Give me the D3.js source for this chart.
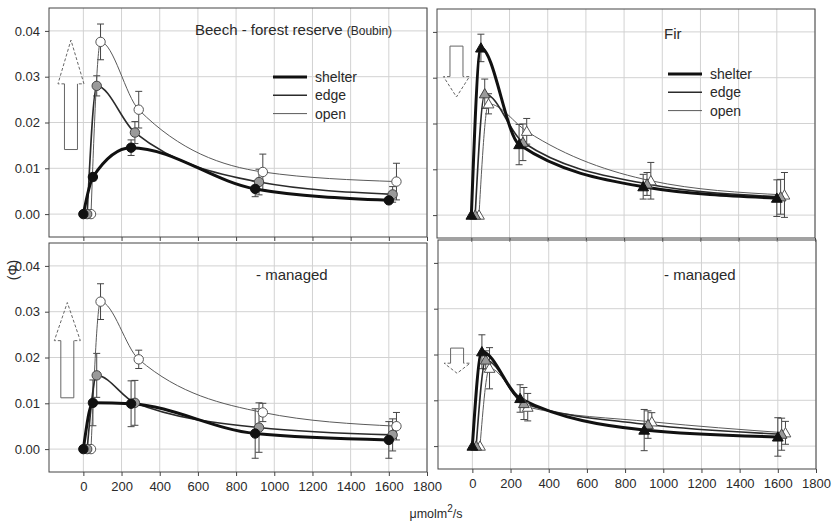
<!DOCTYPE html>
<html>
<head>
<meta charset="utf-8">
<script src="https://cdn.jsdelivr.net/npm/d3@7"></script>
<style>
body { margin: 0; background: #fff; }
svg { font-family: "Liberation Sans", Arial, sans-serif; }
.grid line { stroke: #d2d2d2; stroke-width: 1; }
.axis path { display: none; }
.axis line { stroke: #444; }
.axis text { font-size: 13px; fill: #2a2a2a; }
.frame { fill: none; stroke: #444; stroke-width: 1; }
.err { stroke: #444; stroke-width: 1; fill: none; }
.arrow-shaft { fill: none; stroke: #666; stroke-width: 1; }
.arrow-head { fill: none; stroke: #666; stroke-width: 1; stroke-dasharray: 3,2; }
</style>
</head>
<body>
<div id="chart"></div>
<script>
var xTicks = [0, 200, 400, 600, 800, 1000, 1200, 1400, 1600, 1800];
var yTicks = [0, 0.01, 0.02, 0.03, 0.04];

// light levels (series are offset slightly along x, as in the figure)
var xShelter = [0, 50, 250, 900, 1600];
var xEdge = [20, 70, 270, 920, 1620];
var xOpen = [40, 90, 290, 940, 1640];

// Beech - forest reserve (Boubin)
var beechResShelter = [0, 0.0081, 0.0145, 0.0055, 0.0030];
var beechResShelterErr = [0, 0.0008, 0.0017, 0.0017, 0.0005];
var beechResEdge = [0, 0.0280, 0.0178, 0.0070, 0.0043];
var beechResEdgeErr = [0, 0.0022, 0.0024, 0.0028, 0.0017];
var beechResOpen = [0, 0.0376, 0.0228, 0.0092, 0.0071];
var beechResOpenErr = [0, 0.0039, 0.0040, 0.0039, 0.0040];

// Fir - forest reserve
var firResShelter = [0, 0.0365, 0.0154, 0.0062, 0.0037];
var firResShelterErr = [0, 0.0030, 0.0044, 0.0027, 0.0040];
var firResEdge = [0, 0.0265, 0.0159, 0.0068, 0.0040];
var firResEdgeErr = [0, 0.0032, 0.0040, 0.0025, 0.0038];
var firResOpen = [0, 0.0243, 0.0183, 0.0075, 0.0044];
var firResOpenErr = [0, 0.0022, 0.0028, 0.0040, 0.0049];

// Beech - managed
var beechManShelter = [0, 0.0101, 0.0099, 0.0034, 0.0020];
var beechManShelterErr = [0, 0.0050, 0.0050, 0.0054, 0.0040];
var beechManEdge = [0, 0.0161, 0.0101, 0.0047, 0.0031];
var beechManEdgeErr = [0, 0.0048, 0.0049, 0.0054, 0.0035];
var beechManOpen = [0, 0.0322, 0.0196, 0.0080, 0.0050];
var beechManOpenErr = [0, 0.0039, 0.0020, 0.0020, 0.0030];

// Fir - managed
var firManShelter = [0, 0.0206, 0.0104, 0.0035, 0.0020];
var firManShelterErr = [0, 0.0037, 0.0030, 0.0045, 0.0042];
var firManEdge = [0, 0.0188, 0.0093, 0.0047, 0.0026];
var firManEdgeErr = [0, 0.0020, 0.0035, 0.0030, 0.0035];
var firManOpen = [0, 0.0170, 0.0085, 0.0053, 0.0029];
var firManOpenErr = [0, 0.0045, 0.0030, 0.0020, 0.0025];

// arrows: x position, tail and tip (shelter peak -> open peak)
var arrowX = [-65, -78, -84, -80];
var arrowTail = [0.0141, 0.0369, 0.0112, 0.0214];
var arrowTip = [0.0380, 0.0258, 0.0320, 0.0159];

var seriesNames = ["shelter", "edge", "open"];
var xDomain = [-180, 1800];
var yDomain = [-0.005, 0.045];

var width = 832, height = 521;
var panelW = 378, panelH = 229;

var styles = {
	shelter: { stroke: "#111", width: 3, fill: "#111", mstroke: "#111" },
	edge: { stroke: "#2b2b2b", width: 1.6, fill: "#9a9a9a", mstroke: "#444" },
	open: { stroke: "#5a5a5a", width: 1, fill: "#fff", mstroke: "#555" }
};

function makeSeries(sh, shE, ed, edE, op, opE) {
	return [
		{ name: "shelter", xs: xShelter, ys: sh, err: shE },
		{ name: "edge", xs: xEdge, ys: ed, err: edE },
		{ name: "open", xs: xOpen, ys: op, err: opE }
	];
}

var panels = [
	{ left: 49, top: 8, marker: "circle", yLabels: true, xLabels: false,
	  title: "Beech - forest reserve ", sub: "(Boubin)", tx: 146, ty: 27,
	  legend: { x: 224, y: 69 }, arrow: 0,
	  series: makeSeries(beechResShelter, beechResShelterErr, beechResEdge, beechResEdgeErr, beechResOpen, beechResOpenErr) },
	{ left: 437, top: 9, marker: "triangle", yLabels: false, xLabels: false,
	  title: "Fir", sub: "", tx: 227, ty: 30,
	  legend: { x: 231, y: 65 }, arrow: 1,
	  series: makeSeries(firResShelter, firResShelterErr, firResEdge, firResEdgeErr, firResOpen, firResOpenErr) },
	{ left: 49, top: 243, marker: "circle", yLabels: true, xLabels: true,
	  title: "- managed", sub: "", tx: 207, ty: 37,
	  legend: null, arrow: 2,
	  series: makeSeries(beechManShelter, beechManShelterErr, beechManEdge, beechManEdgeErr, beechManOpen, beechManOpenErr) },
	{ left: 438, top: 240, marker: "triangle", yLabels: false, xLabels: true,
	  title: "- managed", sub: "", tx: 226, ty: 40,
	  legend: null, arrow: 3,
	  series: makeSeries(firManShelter, firManShelterErr, firManEdge, firManEdgeErr, firManOpen, firManOpenErr) }
];

var svg = d3.select("#chart").append("svg")
	.attr("width", width)
	.attr("height", height);

panels.forEach(drawPanel);

// y axis label
svg.append("text")
	.attr("transform", "translate(18, 270) rotate(-90)")
	.attr("text-anchor", "middle")
	.style("font-size", "14px")
	.style("fill", "#2a2a2a")
	.text("(Φ)");

// x axis label
var xl = svg.append("text")
	.attr("x", 436)
	.attr("y", 518)
	.attr("text-anchor", "middle")
	.style("font-size", "12.5px")
	.style("fill", "#2a2a2a");
xl.append("tspan").text("μmolm");
xl.append("tspan").attr("dy", -6).style("font-size", "10px").text("2");
xl.append("tspan").attr("dy", 6).text("/s");

function drawPanel(p) {
	var x = d3.scaleLinear().domain(xDomain).range([0, panelW]);
	var y = d3.scaleLinear().domain(yDomain).range([panelH, 0]);

	var g = svg.append("g").attr("transform", `translate(${p.left}, ${p.top})`);

	/* grid */
	var grid = g.append("g").attr("class", "grid");
	grid.selectAll(".vg")
		.data(xTicks).enter()
		.append("line")
		.attr("x1", d => x(d)).attr("x2", d => x(d))
		.attr("y1", 0).attr("y2", panelH);
	grid.selectAll(".hg")
		.data(yTicks).enter()
		.append("line")
		.attr("x1", 0).attr("x2", panelW)
		.attr("y1", d => y(d)).attr("y2", d => y(d));

	/* axes */
	var xAxis = d3.axisBottom(x).tickValues(xTicks).tickSize(4).tickPadding(6)
		.tickFormat(p.xLabels ? d3.format("d") : "");
	var yAxis = d3.axisLeft(y).tickValues(yTicks).tickSize(4).tickPadding(5)
		.tickFormat(p.yLabels ? d3.format(".2f") : "");

	g.append("g")
		.attr("class", "axis")
		.attr("transform", `translate(0, ${panelH})`)
		.call(xAxis);
	g.append("g")
		.attr("class", "axis")
		.call(yAxis);

	g.append("rect")
		.attr("class", "frame")
		.attr("width", panelW)
		.attr("height", panelH);

	/* title */
	var t = g.append("text")
		.attr("x", p.tx).attr("y", p.ty)
		.style("font-size", "15px")
		.style("fill", "#2a2a2a")
		.text(p.title);
	if (p.sub) {
		t.append("tspan").style("font-size", "12px").text(p.sub);
	}

	/* legend */
	if (p.legend) {
		var lg = g.append("g").attr("transform", `translate(${p.legend.x}, ${p.legend.y})`);
		seriesNames.forEach(function(n, i) {
			lg.append("line")
				.attr("x1", 0).attr("x2", 34)
				.attr("y1", i * 18.3).attr("y2", i * 18.3)
				.style("stroke", styles[n].stroke)
				.style("stroke-width", styles[n].width);
			lg.append("text")
				.attr("x", 42).attr("y", i * 18.3 + 5)
				.style("font-size", "14px")
				.style("fill", "#2a2a2a")
				.text(n);
		});
	}

	/* arrow */
	var ax = x(arrowX[p.arrow]);
	var yTail = y(arrowTail[p.arrow]);
	var yTip = y(arrowTip[p.arrow]);
	var yBase = yTip + (yTail - yTip) * 0.4;
	var sw = 6.5, hw = 13;
	g.append("path")
		.attr("class", "arrow-shaft")
		.attr("d", d3.line()([[ax - sw, yBase], [ax - sw, yTail], [ax + sw, yTail], [ax + sw, yBase]]));
	g.append("path")
		.attr("class", "arrow-head")
		.attr("d", d3.line()([[ax - sw, yBase], [ax - hw, yBase], [ax, yTip], [ax + hw, yBase], [ax + sw, yBase]]));

	/* series data */
	var data = p.series.map(function(s) {
		return {
			name: s.name,
			values: s.xs.map((v, i) => ({ x: v, y: s.ys[i], e: s.err[i] }))
		};
	});

	/* error bars */
	var cap = 3.5;
	data.forEach(function(s) {
		s.values.filter(d => d.e > 0).forEach(function(d) {
			var cx = x(d.x), y1 = y(d.y - d.e), y2 = y(d.y + d.e);
			g.append("path")
				.attr("class", "err")
				.attr("d", `M${cx},${y1}V${y2}M${cx - cap},${y1}H${cx + cap}M${cx - cap},${y2}H${cx + cap}`);
		});
	});

	/* lines */
	var line = d3.line()
		.curve(d3.curveMonotoneX)
		.x(d => x(d.x))
		.y(d => y(d.y));

	// draw thin lines first so the thick one sits on top
	data.slice().reverse().forEach(function(s) {
		g.append("path")
			.attr("d", line(s.values))
			.style("fill", "none")
			.style("stroke", styles[s.name].stroke)
			.style("stroke-width", styles[s.name].width);
	});

	/* markers */
	var tri = d3.symbol().type(d3.symbolTriangle).size(50);
	data.slice().reverse().forEach(function(s) {
		var st = styles[s.name];
		var sel = g.append("g").selectAll("path")
			.data(s.values).enter();
		if (p.marker === "circle") {
			sel.append("circle")
				.attr("cx", d => x(d.x))
				.attr("cy", d => y(d.y))
				.attr("r", 4.7)
				.style("fill", st.fill)
				.style("stroke", st.mstroke)
				.style("stroke-width", 1);
		} else {
			sel.append("path")
				.attr("d", tri)
				.attr("transform", d => `translate(${x(d.x)}, ${y(d.y) + 1})`)
				.style("fill", st.fill)
				.style("stroke", st.mstroke)
				.style("stroke-width", 1);
		}
	});
}
</script>
</body>
</html>
